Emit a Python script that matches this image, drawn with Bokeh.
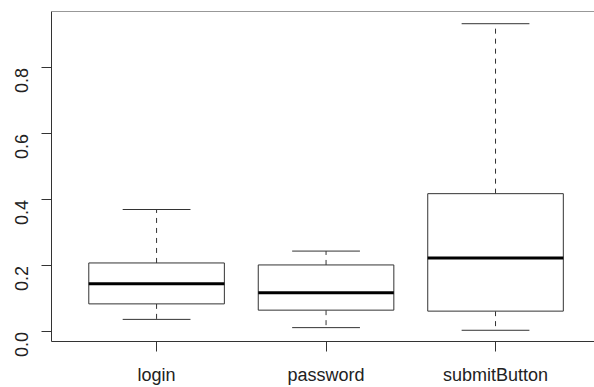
import numpy as np
from bokeh.plotting import figure
from bokeh.models import Range1d, FixedTicker, PrintfTickFormatter, Span
from bokeh.embed import file_html
from bokeh.resources import INLINE

# ---- data ----
categories = ["login", "password", "submitButton"]
lower_whisker = [0.038, 0.013, 0.005]
q1 = [0.085, 0.066, 0.063]
median = [0.146, 0.119, 0.224]
q3 = [0.209, 0.203, 0.419]
upper_whisker = [0.371, 0.245, 0.934]
y_ticks = [0.0, 0.2, 0.4, 0.6, 0.8]

pos = np.arange(1, len(categories) + 1)
box_w = 0.8
cap_w = 0.4

y_start, y_end = -0.029, 0.971

p = figure(width=594, height=387, output_backend="svg", toolbar_location=None,
           x_range=Range1d(0.38, 3.584), y_range=Range1d(y_start, y_end),
           min_border_left=51, min_border_top=11, min_border_right=0,
           min_border_bottom=44)
p.outline_line_color = None
p.background_fill_color = "white"
p.border_fill_color = "white"
p.grid.visible = False

FONT = "Liberation Sans"
LINE = "#333333"

# whiskers (dashed)
p.segment(x0=pos, x1=pos, y0=q3, y1=upper_whisker, line_color=LINE,
          line_width=1, line_dash="5 5")
p.segment(x0=pos, x1=pos, y0=q1, y1=lower_whisker, line_color=LINE,
          line_width=1, line_dash="5 5")
# caps
p.segment(x0=pos - cap_w / 2, x1=pos + cap_w / 2, y0=upper_whisker, y1=upper_whisker,
          line_color=LINE, line_width=1)
p.segment(x0=pos - cap_w / 2, x1=pos + cap_w / 2, y0=lower_whisker, y1=lower_whisker,
          line_color=LINE, line_width=1)
# boxes
p.vbar(x=pos, width=box_w, bottom=q1, top=q3, fill_color="white",
       line_color=LINE, line_width=1)
# medians
p.segment(x0=pos - box_w / 2, x1=pos + box_w / 2, y0=median, y1=median,
          line_color="black", line_width=3)

# top frame line (no right border visible in reference)
p.add_layout(Span(location=y_end, dimension="width", line_color=LINE, line_width=1))

# y axis
ya = p.yaxis[0]
ya.ticker = FixedTicker(ticks=y_ticks)
ya.formatter = PrintfTickFormatter(format="%.1f")
ya.major_label_orientation = np.pi / 2
ya.major_label_text_font = FONT
ya.major_label_text_font_size = "18px"
ya.major_label_text_color = "#222222"
ya.major_label_standoff = 20
ya.major_tick_out = 10
ya.major_tick_in = 0
ya.minor_tick_out = 0
ya.minor_tick_in = 0
ya.axis_line_color = LINE
ya.major_tick_line_color = LINE

# x axis
xa = p.xaxis[0]
xa.ticker = FixedTicker(ticks=list(pos))
xa.major_label_overrides = {int(i): c for i, c in zip(pos, categories)}
xa.major_label_text_font = FONT
xa.major_label_text_font_size = "18px"
xa.major_label_text_color = "#222222"
xa.major_label_standoff = 13
xa.major_tick_out = 10
xa.major_tick_in = 0
xa.minor_tick_out = 0
xa.minor_tick_in = 0
xa.axis_line_color = LINE
xa.major_tick_line_color = LINE

open("out.html", "w").write(file_html(p, INLINE))
